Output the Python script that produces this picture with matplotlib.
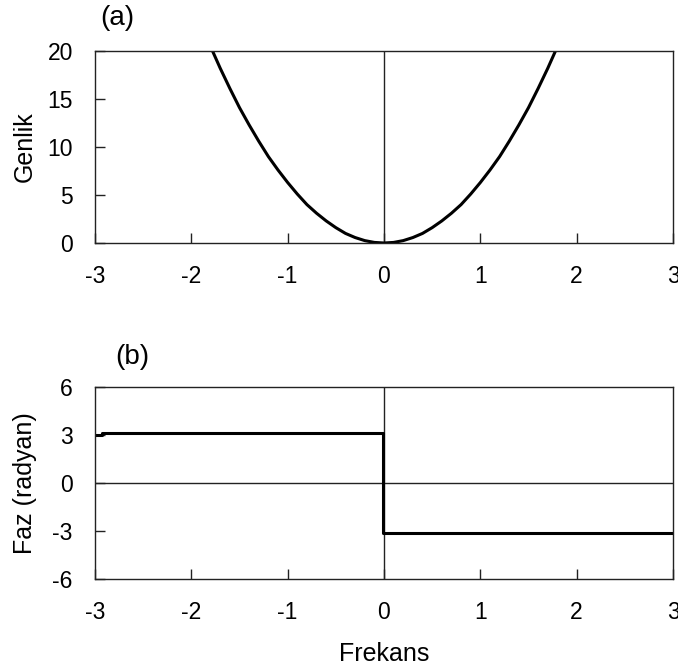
import matplotlib
matplotlib.use('Agg')
from matplotlib import pyplot as plt

plt.rcParams['font.family'] = ['Liberation Sans', 'DejaVu Sans']
plt.rcParams['font.size'] = 17
plt.rcParams['axes.unicode_minus'] = False

# genlik spektrumu (okunan degerler)
freq_amp = [-1.78, -1.7, -1.6, -1.5, -1.4, -1.3, -1.2, -1.1, -1.0, -0.9, -0.8, -0.7,
            -0.6, -0.5, -0.4, -0.3, -0.2, -0.1, 0.0, 0.1, 0.2, 0.3, 0.4, 0.5, 0.6,
            0.7, 0.8, 0.9, 1.0, 1.1, 1.2, 1.3, 1.4, 1.5, 1.6, 1.7, 1.78]
amp = [20.0, 18.2, 16.1, 14.1, 12.3, 10.6, 9.0, 7.6, 6.3, 5.1, 4.0, 3.1,
       2.3, 1.6, 1.0, 0.57, 0.25, 0.06, 0.0, 0.06, 0.25, 0.57, 1.0, 1.6, 2.3,
       3.1, 4.0, 5.1, 6.3, 7.6, 9.0, 10.6, 12.3, 14.1, 16.1, 18.2, 20.0]

# faz spektrumu
freq_phase = [-3.0, -2.93, -2.93, -0.01, -0.01, 3.0]
phase = [3.0, 3.0, 3.14, 3.14, -3.14, -3.14]

xticks = [-3, -2, -1, 0, 1, 2, 3]

fig = plt.figure(figsize=(6.78, 6.72), dpi=100)
ax1 = fig.add_axes([95/678, 1 - 243/672, 578/678, 192/672])
ax2 = fig.add_axes([95/678, 1 - 579/672, 578/678, 192/672])

for ax in (ax1, ax2):
    for s in ax.spines.values():
        s.set_linewidth(1.0)
        s.set_color('#222222')
    ax.tick_params(direction='in', length=7, width=1.0, color='#222222',
                   top=False, right=False, pad=16, labelsize=16.5)
    ax.set_xlim(-3, 3)
    ax.set_xticks(xticks)
    ax.axvline(0, color='#222222', lw=1.0)

ax1.plot(freq_amp, amp, color='black', lw=2.2)
ax1.set_ylim(0, 20)
ax1.set_yticks([0, 5, 10, 15, 20])
ax1.set_ylabel('Genlik', fontsize=18)
ax1.yaxis.set_label_coords(-0.10, 0.5)
fig.text(100/678, 1 - 18/672, '(a)', fontsize=20, va='center', ha='left')

ax2.axhline(0, color='#222222', lw=1.0)
ax2.plot(freq_phase, phase, color='black', lw=2.2)
ax2.set_ylim(-6, 6)
ax2.set_yticks([-6, -3, 0, 3, 6])
ax2.set_ylabel('Faz (radyan)', fontsize=18)
ax2.yaxis.set_label_coords(-0.10, 0.5)
ax2.set_xlabel('Frekans', fontsize=18)
ax2.xaxis.set_label_coords(0.5, -0.33)
fig.text(115/678, 1 - 357/672, '(b)', fontsize=20, va='center', ha='left')

plt.savefig('out.png', dpi=100)
